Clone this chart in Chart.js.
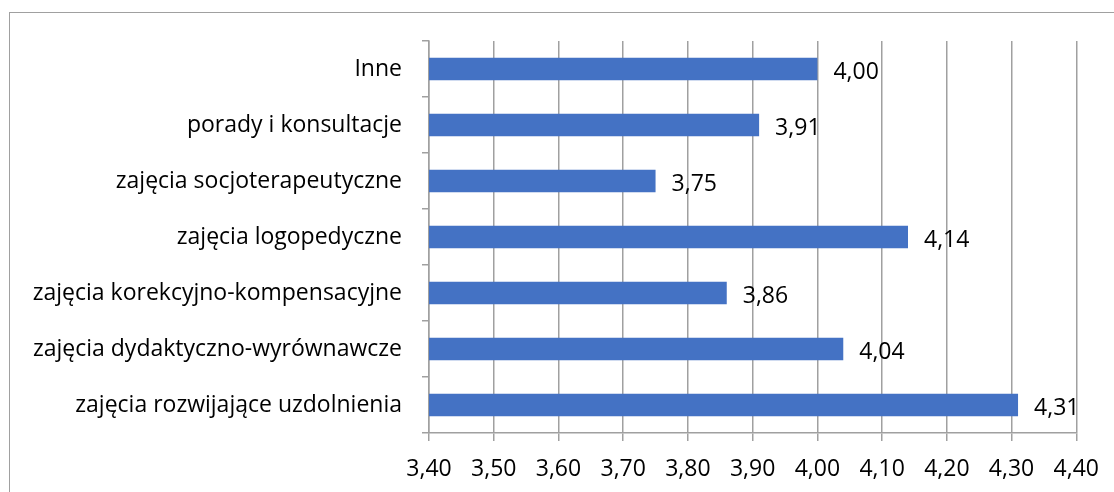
<!DOCTYPE html>
<html lang="pl">
<head>
<meta charset="utf-8">
<title>Ocena form pomocy</title>
<script src="https://cdn.jsdelivr.net/npm/chart.js@4.4.1/dist/chart.umd.min.js"></script>
<style>
  html, body { margin: 0; padding: 0; background: #fff; overflow: hidden; }
  #wrap { position: relative; width: 1114px; height: 492px; }
</style>
</head>
<body>
<div id="wrap"><canvas id="chart" width="1114" height="492"></canvas></div>
<script>
// categories listed top to bottom
const categories = [
  'Inne',
  'porady i konsultacje',
  'zajęcia socjoterapeutyczne',
  'zajęcia logopedyczne',
  'zajęcia korekcyjno-kompensacyjne',
  'zajęcia dydaktyczno-wyrównawcze',
  'zajęcia rozwijające uzdolnienia'
];
const meanScores = [4.00, 3.91, 3.75, 4.14, 3.86, 4.04, 4.31];
const axisMin = 3.40;
const axisMax = 4.40;
const axisStep = 0.10;

const FONT = '"Open Sans", "Liberation Sans", sans-serif';
const FONT_SIZE = 23;
const fmt = v => v.toFixed(2).replace('.', ',');

// thin grey frame around the whole chart
const framePlugin = {
  id: 'frame',
  beforeDraw(chart) {
    const ctx = chart.ctx;
    ctx.save();
    ctx.strokeStyle = '#a0a0a0';
    ctx.lineWidth = 1;
    ctx.strokeRect(9.5, 12.5, 1300, 700);
    ctx.restore();
  }
};

// value labels to the right of every bar
const valueLabels = {
  id: 'valueLabels',
  afterDatasetsDraw(chart) {
    const ctx = chart.ctx;
    const meta = chart.getDatasetMeta(0);
    ctx.save();
    ctx.font = FONT_SIZE + 'px ' + FONT;
    ctx.fillStyle = '#000';
    ctx.textAlign = 'left';
    ctx.textBaseline = 'middle';
    meta.data.forEach((bar, i) => {
      ctx.fillText(fmt(meanScores[i]), bar.x + 16, bar.y + 3);
    });
    ctx.restore();
  }
};

const ctx = document.getElementById('chart').getContext('2d');
new Chart(ctx, {
  type: 'bar',
  data: {
    labels: categories,
    datasets: [{
      data: meanScores,
      backgroundColor: '#4472c4',
      borderWidth: 0,
      barPercentage: 0.8,
      categoryPercentage: 0.5
    }]
  },
  options: {
    indexAxis: 'y',
    responsive: false,
    animation: false,
    events: [],
    layout: { padding: { top: 41, left: 0, right: 37, bottom: 0 } },
    plugins: { legend: { display: false }, tooltip: { enabled: false } },
    scales: {
      x: {
        min: axisMin,
        max: axisMax,
        ticks: {
          stepSize: axisStep,
          color: '#000',
          font: { family: FONT, size: FONT_SIZE },
          padding: 15,
          callback: v => fmt(v)
        },
        grid: { color: '#a0a0a0', lineWidth: 1.5, tickLength: 8 },
        border: { color: '#a0a0a0', width: 1.5 },
        afterFit(scale) { scale.height = 59; }
      },
      y: {
        ticks: {
          color: '#000',
          font: { family: FONT, size: FONT_SIZE },
          padding: 20
        },
        grid: { display: true, drawOnChartArea: false, offset: true, color: '#a0a0a0', lineWidth: 1.5, tickLength: 7 },
        border: { color: '#a0a0a0', width: 1.5 },
        afterFit(scale) { scale.width = 429; }
      }
    }
  },
  plugins: [framePlugin, valueLabels]
});
</script>
</body>
</html>
